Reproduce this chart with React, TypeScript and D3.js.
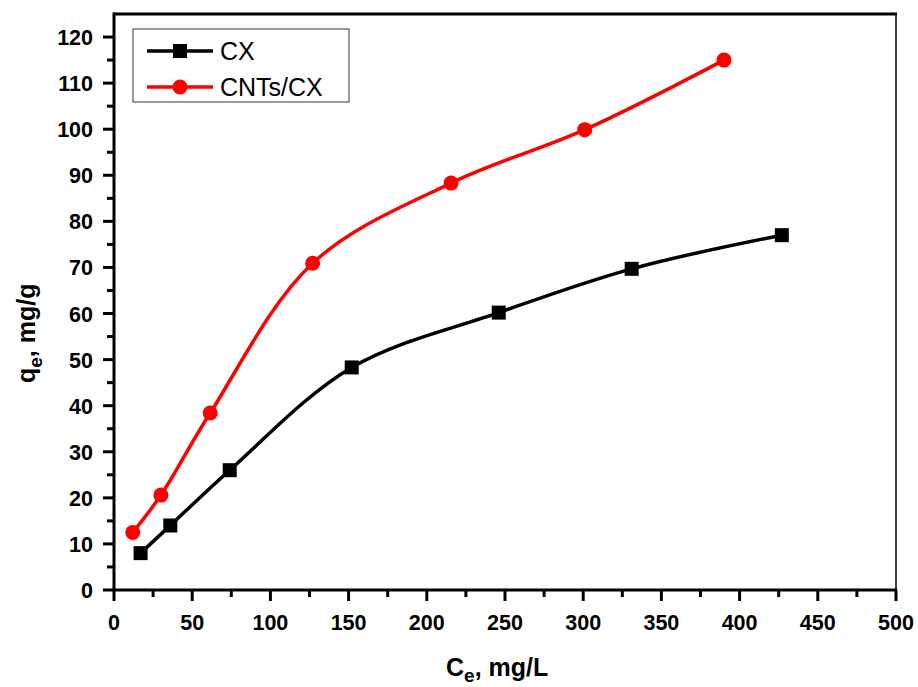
import React from "react";
import * as d3 from "d3";

const cxX = [17, 36, 74, 152, 246, 331, 427];
const cxY = [8, 14, 26, 48.3, 60.2, 69.7, 77];
const cntX = [12, 30, 61.5, 127, 215.5, 301, 390];
const cntY = [12.5, 20.6, 38.4, 70.9, 88.3, 99.9, 115];
const xTicks = [0, 50, 100, 150, 200, 250, 300, 350, 400, 450, 500];
const yTicks = [0, 10, 20, 30, 40, 50, 60, 70, 80, 90, 100, 110, 120];
const seriesNames = ["CX", "CNTs/CX"];

export default function App() {
  const W = 918, H = 687;
  const L = 114, R = 896, T = 14, B = 590;
  const x = d3.scaleLinear().domain([0, 500]).range([L, R]);
  const y = d3.scaleLinear().domain([0, 125]).range([B, T]);
  const line = d3.line<[number, number]>().x(d => x(d[0])).y(d => y(d[1])).curve(d3.curveCatmullRom.alpha(0.5));
  const cx = cxX.map((v, i) => [v, cxY[i]] as [number, number]);
  const cnt = cntX.map((v, i) => [v, cntY[i]] as [number, number]);
  const xMinor = d3.range(25, 500, 50);
  const yMinor = d3.range(5, 125, 10);
  const font = "'Liberation Sans', Arial, sans-serif";
  return (
    <svg width={W} height={H} style={{ position: "absolute", left: 0, top: 0, background: "#fff" }} fontFamily={font}>
      <line x1={R} y1={T} x2={R} y2={B} stroke="#000" strokeWidth={1.5} />
      <line x1={L} y1={T} x2={R + 1} y2={T} stroke="#000" strokeWidth={3} />
      <line x1={L} y1={T - 1.5} x2={L} y2={B + 1.5} stroke="#000" strokeWidth={3} />
      <line x1={L - 1.5} y1={B} x2={R + 1} y2={B} stroke="#000" strokeWidth={3} />
      {xTicks.map(t => (
        <g key={"xt" + t}>
          <line x1={x(t)} x2={x(t)} y1={B} y2={B + 11} stroke="#000" strokeWidth={3} />
          <text x={x(t)} y={B + 40} textAnchor="middle" fontSize={21.5} fontWeight="bold">{t}</text>
        </g>
      ))}
      {xMinor.map(t => (
        <line key={"xm" + t} x1={x(t)} x2={x(t)} y1={B} y2={B + 7} stroke="#000" strokeWidth={3} />
      ))}
      {yTicks.map(t => (
        <g key={"yt" + t}>
          <line x1={L} x2={L - 11} y1={y(t)} y2={y(t)} stroke="#000" strokeWidth={3} />
          <text x={L - 21} y={y(t) + 8} textAnchor="end" fontSize={21.5} fontWeight="bold">{t}</text>
        </g>
      ))}
      {yMinor.map(t => (
        <line key={"ym" + t} x1={L} x2={L - 7} y1={y(t)} y2={y(t)} stroke="#000" strokeWidth={3} />
      ))}
      <text x={446} y={676} fontSize={25} fontWeight="bold">
        C<tspan fontSize={19} dy={6}>e</tspan><tspan dy={-6}>, mg/L</tspan>
      </text>
      <text transform={`translate(35,383) rotate(-90)`} fontSize={25} fontWeight="bold">
        q<tspan fontSize={19} dy={7}>e</tspan><tspan dy={-7}>, mg/g</tspan>
      </text>
      <path d={line(cx) || ""} fill="none" stroke="#000" strokeWidth={3.5} />
      {cx.map((d, i) => (
        <rect key={"cx" + i} x={x(d[0]) - 7} y={y(d[1]) - 7} width={14} height={14} fill="#000" />
      ))}
      <path d={line(cnt) || ""} fill="none" stroke="#ff0000" strokeWidth={3.5} />
      {cnt.map((d, i) => (
        <circle key={"cn" + i} cx={x(d[0])} cy={y(d[1])} r={7.5} fill="#ff0000" />
      ))}
      <rect x={133} y={29} width={216} height={73} fill="#fff" stroke="#333" strokeWidth={1} />
      <line x1={147} x2={213} y1={51} y2={51} stroke="#000" strokeWidth={3.5} />
      <rect x={173} y={44} width={14} height={14} fill="#000" />
      <text x={220} y={60} fontSize={25}>{seriesNames[0]}</text>
      <line x1={147} x2={213} y1={87} y2={87} stroke="#ff0000" strokeWidth={3.5} />
      <circle cx={180} cy={87} r={7.5} fill="#ff0000" />
      <text x={220} y={96} fontSize={25}>{seriesNames[1]}</text>
    </svg>
  );
}
